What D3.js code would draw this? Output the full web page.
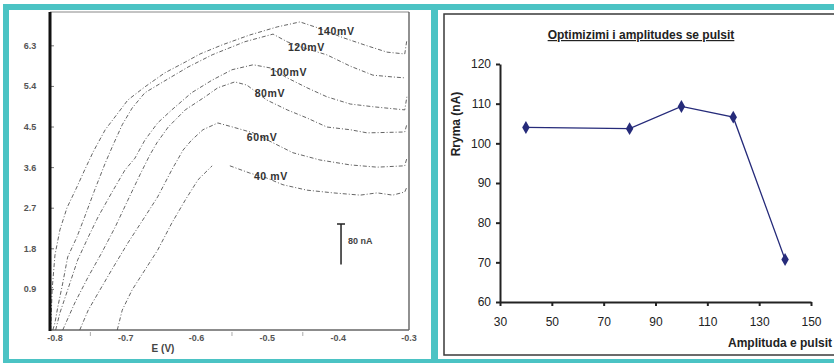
<!DOCTYPE html>
<html lang="en">
<head>
<meta charset="UTF-8">
<script src="https://d3js.org/d3.v7.min.js"></script>
<title>Optimizimi i amplitudes se pulsit</title>
<style>
  body { margin: 0; background: #fff; }
  svg { display: block; font-family: Arial, "Liberation Sans", sans-serif; }
  .curve { fill: none; stroke: #4a4a4a; stroke-opacity: 0.85; stroke-width: 1px; stroke-dasharray: 4,2,1,2; }
  .vlabel { font-size: 10.5px; font-weight: bold; fill: #333; letter-spacing: 0.6px; }
  .ltick { font-size: 9px; font-weight: bold; fill: #555; }
</style>
</head>
<body>
<svg id="fig" width="834" height="363"></svg>
<script>
// ---- left panel data (E in V, current in scale units) ----
var eTicks = [-0.8, -0.7, -0.6, -0.5, -0.4, -0.3];
var iTicks = [0.9, 1.8, 2.7, 3.6, 4.5, 5.4, 6.3];
var curveNames = ["140mV", "120mV", "100mV", "80mV", "60mV", "40 mV"];

var curve140 = [[-0.806,0],[-0.804,0.89],[-0.800,1.66],[-0.793,2.22],[-0.783,2.71],[-0.769,3.17],[-0.758,3.55],
  [-0.746,3.95],[-0.729,4.44],[-0.711,4.81],[-0.697,5.10],[-0.673,5.39],[-0.645,5.70],[-0.616,5.94],[-0.595,6.12],
  [-0.564,6.32],[-0.525,6.54],[-0.486,6.72],[-0.454,6.83],[-0.429,6.70],[-0.393,6.48],[-0.359,6.30],[-0.331,6.16],
  [-0.306,6.12],[-0.303,6.43]];
var curve120 = [[-0.803,0],[-0.800,0.16],[-0.796,0.51],[-0.789,1.04],[-0.782,1.62],[-0.769,2.06],[-0.758,2.51],
  [-0.744,3.10],[-0.729,3.70],[-0.718,4.10],[-0.705,4.55],[-0.691,4.92],[-0.673,5.26],[-0.640,5.57],[-0.612,5.83],
  [-0.578,6.10],[-0.532,6.39],[-0.492,6.56],[-0.472,6.39],[-0.454,6.28],[-0.416,6.10],[-0.383,5.85],[-0.351,5.65],
  [-0.323,5.61],[-0.306,5.59]];
var curve100 = [[-0.799,0],[-0.793,0.38],[-0.782,0.89],[-0.768,1.55],[-0.753,2.06],[-0.739,2.51],[-0.720,3.04],
  [-0.701,3.55],[-0.687,3.81],[-0.673,4.21],[-0.655,4.59],[-0.635,4.88],[-0.607,5.26],[-0.578,5.54],[-0.550,5.77],
  [-0.520,5.88],[-0.496,5.81],[-0.472,5.59],[-0.444,5.37],[-0.416,5.17],[-0.383,5.01],[-0.351,4.95],[-0.306,4.88],
  [-0.303,5.17]];
var curve80 = [[-0.789,0],[-0.772,0.60],[-0.753,1.18],[-0.734,1.71],[-0.715,2.28],[-0.697,2.88],[-0.680,3.44],
  [-0.666,3.88],[-0.656,4.15],[-0.640,4.50],[-0.616,4.88],[-0.588,5.17],[-0.570,5.37],[-0.546,5.50],[-0.529,5.43],
  [-0.501,5.10],[-0.472,4.88],[-0.444,4.70],[-0.416,4.50],[-0.383,4.44],[-0.359,4.37],[-0.306,4.39],[-0.303,4.56]];
var curve60 = [[-0.765,0],[-0.753,0.44],[-0.739,0.82],[-0.720,1.33],[-0.697,1.93],[-0.673,2.51],[-0.655,2.95],
  [-0.635,3.55],[-0.619,3.99],[-0.607,4.21],[-0.591,4.44],[-0.570,4.59],[-0.549,4.50],[-0.520,4.37],[-0.492,4.15],
  [-0.464,3.93],[-0.426,3.77],[-0.383,3.66],[-0.345,3.61],[-0.306,3.64],[-0.303,3.81]];
var curve40 = [[-0.712,0],[-0.705,0.44],[-0.691,0.89],[-0.673,1.33],[-0.655,1.77],[-0.635,2.37],[-0.616,2.88],
  [-0.598,3.33],[-0.578,3.64],null,[-0.553,3.64],[-0.525,3.48],[-0.501,3.37],[-0.478,3.22],[-0.444,3.10],
  [-0.407,3.04],[-0.369,2.99],[-0.345,3.04],[-0.323,2.99],[-0.306,3.06],[-0.303,3.17]];
var curves = [curve140, curve120, curve100, curve80, curve60, curve40];
// where each amplitude label sits (E, current)
var labelAt = [[-0.429,6.54],[-0.471,6.19],[-0.496,5.63],[-0.518,5.17],[-0.529,4.19],[-0.519,3.33]];
var scaleBar = {e: -0.396, top: 2.35, len: 0.9, text: "80 nA"};

// ---- right panel data ----
var amplitude = [40, 80, 100, 120, 140];
var rryma = [104.0, 103.7, 109.3, 106.6, 70.7];
var ampTicks = [30, 50, 70, 90, 110, 130, 150];
var rrymaTicks = [60, 70, 80, 90, 100, 110, 120];

var svg = d3.select("#fig");
var teal = "#4bc3c4";

// teal frames
svg.append("rect").attr("x", 3).attr("y", 4).attr("width", 831).attr("height", 6).attr("fill", teal);
svg.append("rect").attr("x", 3).attr("y", 4).attr("width", 6).attr("height", 359).attr("fill", teal);
svg.append("rect").attr("x", 3).attr("y", 359).attr("width", 831).attr("height", 4).attr("fill", teal);
svg.append("rect").attr("x", 431).attr("y", 4).attr("width", 7).attr("height", 359).attr("fill", teal);

// ================= left panel =================
var x1 = d3.scaleLinear().domain([-0.807, -0.3]).range([50, 409]);
var y1 = d3.scaleLinear().domain([0, 7.05]).range([330, 12]);
var left = svg.append("g");

// frame
left.append("line").attr("x1", 50).attr("x2", 409).attr("y1", 12).attr("y2", 12)
    .attr("stroke", "#888").attr("stroke-width", 1);
left.append("line").attr("x1", 409).attr("x2", 409).attr("y1", 12).attr("y2", 330)
    .attr("stroke", "#555").attr("stroke-width", 1.3);
left.append("line").attr("x1", 50).attr("x2", 409).attr("y1", 330).attr("y2", 330)
    .attr("stroke", "#666").attr("stroke-width", 1.5);

// minor ticks below the E axis
left.selectAll(".mt").data([-0.75, -0.55, -0.45]).enter().append("line")
    .attr("x1", d => x1(d)).attr("x2", d => x1(d)).attr("y1", 332).attr("y2", 336)
    .attr("stroke", "#aaa").attr("stroke-width", 1);

left.selectAll(".et").data(eTicks).enter().append("text").attr("class", "ltick")
    .attr("x", d => x1(d)).attr("y", 341).attr("text-anchor", "middle")
    .text(d => d.toFixed(1));

left.selectAll(".it").data(iTicks).enter().append("text").attr("class", "ltick")
    .attr("x", 30).attr("y", d => y1(d) + 3).attr("text-anchor", "middle")
    .text(d => d.toFixed(1));
left.selectAll(".itk").data(iTicks).enter().append("line")
    .attr("x1", 50).attr("x2", 54).attr("y1", d => y1(d)).attr("y2", d => y1(d))
    .attr("stroke", "#777").attr("stroke-width", 1);

left.append("text").attr("x", 163).attr("y", 352).attr("text-anchor", "middle")
    .attr("font-size", "10px").attr("fill", "#444").attr("font-weight", "bold").text("E (V)");

var line1 = d3.line().defined(d => d !== null).x(d => x1(d[0])).y(d => y1(d[1]));
left.selectAll(".curve").data(curves).enter().append("path")
    .attr("class", "curve").attr("d", line1);

left.selectAll(".vlabel").data(curveNames).enter().append("text").attr("class", "vlabel")
    .attr("x", (d, i) => x1(labelAt[i][0])).attr("y", (d, i) => y1(labelAt[i][1]))
    .text(d => d);

// thick left axis line
left.append("line").attr("x1", 50).attr("x2", 50).attr("y1", 12).attr("y2", 331)
    .attr("stroke", "#111").attr("stroke-width", 3);

// scale bar
var sb = left.append("g");
sb.append("line").attr("x1", x1(scaleBar.e)).attr("x2", x1(scaleBar.e))
    .attr("y1", y1(scaleBar.top)).attr("y2", y1(scaleBar.top - scaleBar.len))
    .attr("stroke", "#222").attr("stroke-width", 1.5);
sb.append("line").attr("x1", x1(scaleBar.e) - 4).attr("x2", x1(scaleBar.e) + 4)
    .attr("y1", y1(scaleBar.top)).attr("y2", y1(scaleBar.top))
    .attr("stroke", "#222").attr("stroke-width", 1.5);
sb.append("text").attr("x", x1(scaleBar.e) + 7).attr("y", y1(scaleBar.top) + 20)
    .attr("font-size", "9px").attr("font-weight", "bold").attr("fill", "#444").text(scaleBar.text);

// ================= right panel =================
var right = svg.append("g");
right.append("rect").attr("x", 444).attr("y", 14).attr("width", 400).attr("height", 341)
    .attr("fill", "#fff").attr("stroke", "#3a3a3a").attr("stroke-width", 1.5);

var x2 = d3.scaleLinear().domain([30, 150]).range([500, 811]);
var y2 = d3.scaleLinear().domain([60, 120]).range([302, 64]);

right.append("text").attr("x", 641).attr("y", 39).attr("text-anchor", "middle")
    .attr("font-size", "12px").attr("font-weight", "bold").attr("fill", "#222")
    .attr("text-decoration", "underline").text("Optimizimi i amplitudes se pulsit");

var ax = right.append("g").attr("transform", "translate(0,302)")
    .call(d3.axisBottom(x2).tickValues(ampTicks).tickSize(4).tickSizeOuter(0).tickPadding(11));
var ay = right.append("g").attr("transform", "translate(500,0)")
    .call(d3.axisLeft(y2).tickValues(rrymaTicks).tickSize(4).tickSizeOuter(0).tickPadding(5));
[ax, ay].forEach(function(a) {
  a.select(".domain").attr("stroke", "#222").attr("stroke-width", 2);
  a.selectAll(".tick line").attr("stroke", "#222").attr("stroke-width", 2);
  a.selectAll(".tick text").attr("font-size", "12px").attr("fill", "#222")
    .attr("font-family", "Arial, 'Liberation Sans', sans-serif");
});

right.append("text").attr("transform", "translate(460,124) rotate(-90)").attr("text-anchor", "middle")
    .attr("font-size", "12px").attr("font-weight", "bold").attr("fill", "#222").text("Rryma (nA)");
right.append("text").attr("x", 832).attr("y", 347).attr("text-anchor", "end")
    .attr("font-size", "12px").attr("font-weight", "bold").attr("fill", "#222").text("Amplituda e pulsit");

var pts = amplitude.map((a, i) => [a, rryma[i]]);
right.append("path").datum(pts).attr("fill", "none").attr("stroke", "#262b7a").attr("stroke-width", 1.3)
    .attr("d", d3.line().x(d => x2(d[0])).y(d => y2(d[1])));
right.selectAll(".mk").data(pts).enter().append("path")
    .attr("transform", d => "translate(" + x2(d[0]) + "," + y2(d[1]) + ")")
    .attr("d", d3.symbol().type(d3.symbolDiamond).size(48)).attr("fill", "#262b7a");
</script>
</body>
</html>
